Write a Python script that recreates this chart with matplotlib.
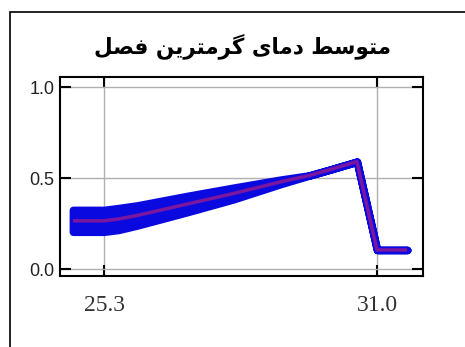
import matplotlib
matplotlib.use("Agg")
import matplotlib.pyplot as plt
from matplotlib.patches import Rectangle
import numpy as np

# values
x_vals = [24.65, 25.3, 25.6, 26.0, 27.0, 28.0, 29.0, 29.6, 30.0, 30.58, 31.0, 31.63]
y_mean = [0.265, 0.265, 0.275, 0.295, 0.355, 0.415, 0.48, 0.515, 0.545, 0.59, 0.105, 0.105]
y_half = [0.06, 0.06, 0.06, 0.055, 0.045, 0.032, 0.012, 0.0, 0.0, 0.0, 0.0, 0.0]
x_ticks = [25.3, 31.0]
x_tick_labels = ["25.3", "31.0"]
y_ticks = [0.0, 0.5, 1.0]
y_tick_labels = ["0.0", "0.5", "1.0"]

# "متوسط دمای گرمترین فصل" written with presentation forms in visual order
title_logical = [0xFEE3, 0xFE98, 0xFEEE, 0xFEB3, 0xFEC2, 0x20,
                 0xFEA9, 0xFEE3, 0xFE8E, 0xFEEF, 0x20,
                 0xFB94, 0xFEAE, 0xFEE3, 0xFE98, 0xFEAE, 0xFEF3, 0xFEE6, 0x20,
                 0xFED3, 0xFEBC, 0xFEDE]
title_text = "".join(chr(c) for c in reversed(title_logical))


def main():
    fig = plt.figure(figsize=(4.65, 3.47), dpi=100)

    # outer frame
    fig.patches.append(Rectangle((10 / 465, -0.1), 1.2, 1 - 12 / 347 + 0.1,
                                 transform=fig.transFigure, fill=False,
                                 edgecolor="black", linewidth=1.2))

    ax = fig.add_axes([60 / 465, 71 / 347, 363 / 465, 199 / 347])

    x = np.array(x_vals)
    m = np.array(y_mean)
    h = np.array(y_half)

    ax.fill_between(x, m - h, m + h, color="#0a0ae0", linewidth=5.5,
                    edgecolor="#0a0ae0", zorder=3)
    ax.plot(x, m, color="#d8206a", linewidth=2.5, alpha=0.55,
            solid_capstyle="butt", zorder=4)

    ax.set_xlim(24.38, 31.96)
    ax.set_ylim(-0.038, 1.055)

    ax.set_xticks(x_ticks)
    ax.set_xticklabels(x_tick_labels, fontfamily="Liberation Serif",
                       fontsize=17, color="#333333")
    ax.set_yticks(y_ticks)
    ax.set_yticklabels(y_tick_labels, fontfamily="Liberation Sans",
                       fontsize=13, color="#222222")

    ax.grid(True, color="#b0b0b0", linewidth=1)
    ax.tick_params(direction="in", length=8, width=1.5,
                   top=True, right=True)
    ax.tick_params(axis="x", pad=14)
    ax.tick_params(axis="y", pad=4)
    for s in ax.spines.values():
        s.set_linewidth(1.5)

    fig.text(242 / 465, 1 - 46 / 347, title_text, ha="center", va="center",
             fontsize=15.5, fontweight="bold", fontfamily="DejaVu Sans")

    fig.savefig("out.png", dpi=100)


if __name__ == "__main__":
    main()
